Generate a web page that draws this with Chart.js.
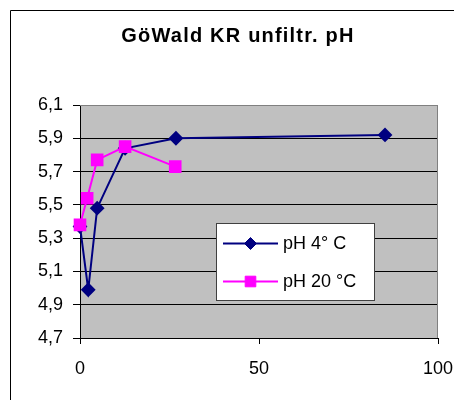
<!DOCTYPE html>
<html>
<head>
<meta charset="utf-8">
<script src="https://cdn.jsdelivr.net/npm/chart.js@4/dist/chart.umd.min.js"></script>
<style>
    html, body { margin: 0; padding: 0; background: #fff; }
    #wrap { width: 454px; height: 400px; position: relative; }
</style>
</head>
<body>
<div id="wrap"><canvas id="phChart" width="454" height="400"></canvas></div>
<script>
// Values
const chartTitle = 'GöWald KR unfiltr. pH';
const seriesNames = ['pH 4° C', 'pH 20 °C'];
const xCold = [0, 2.3, 4.8, 12.6, 26.8, 85.2];
const yCold = [5.37, 4.99, 5.48, 5.84, 5.90, 5.92];
const xWarm = [0, 2.0, 4.8, 12.6, 26.6];
const yWarm = [5.38, 5.54, 5.77, 5.85, 5.73];
const yTicks = [4.7, 4.9, 5.1, 5.3, 5.5, 5.7, 5.9, 6.1];
const xTicks = [0, 50, 100];

const FONT = 'Arial, "Liberation Sans", sans-serif';

// Pair up x and y arrays for the scatter datasets
const toPoints = (xs, ys) => xs.map((x, i) => ({ x: x, y: ys[i] }));

// Draws the outer frame, the grey plot area and the title
const framePlugin = {
    id: 'frame',
    beforeDraw(chart) {
        const ctx = chart.ctx;
        const a = chart.chartArea;
        ctx.save();
        ctx.fillStyle = '#fff';
        ctx.fillRect(0, 0, chart.width, chart.height);

        // outer chart border (only top and left are inside the picture)
        ctx.strokeStyle = '#000';
        ctx.lineWidth = 1;
        ctx.beginPath();
        ctx.moveTo(10.5, chart.height);
        ctx.lineTo(10.5, 10.5);
        ctx.lineTo(chart.width, 10.5);
        ctx.stroke();

        // plot background
        ctx.fillStyle = '#c0c0c0';
        ctx.fillRect(a.left, a.top, a.right - a.left, a.bottom - a.top);

        // title (spreadsheet renders it a bit wide, hence the spacing)
        ctx.fillStyle = '#000';
        ctx.font = 'bold 20px ' + FONT;
        ctx.letterSpacing = '1.2px';
        ctx.textAlign = 'center';
        ctx.textBaseline = 'alphabetic';
        ctx.fillText(chartTitle, 238, 42);
        ctx.restore();
    },
    beforeDatasetsDraw(chart) {
        // grey border on top and right of the plot area
        const ctx = chart.ctx;
        const a = chart.chartArea;
        ctx.save();
        ctx.strokeStyle = '#808080';
        ctx.lineWidth = 1;
        ctx.beginPath();
        ctx.moveTo(a.left, a.top + 0.5);
        ctx.lineTo(a.right - 0.5, a.top + 0.5);
        ctx.lineTo(a.right - 0.5, a.bottom);
        ctx.stroke();
        ctx.restore();
    }
};

// Legend box floating inside the plot, like the spreadsheet one
const boxLegendPlugin = {
    id: 'boxLegend',
    afterDatasetsDraw(chart) {
        const ctx = chart.ctx;
        const box = { x: 216, y: 223, w: 158, h: 77 };
        ctx.save();
        ctx.fillStyle = '#fff';
        ctx.fillRect(box.x, box.y, box.w, box.h);
        ctx.strokeStyle = '#404040';
        ctx.lineWidth = 1;
        ctx.strokeRect(box.x + 0.5, box.y + 0.5, box.w, box.h);

        chart.data.datasets.forEach((ds, i) => {
            const cy = 243.5 + i * 38;
            ctx.strokeStyle = ds.borderColor;
            ctx.lineWidth = ds.borderWidth;
            ctx.beginPath();
            ctx.moveTo(223, cy);
            ctx.lineTo(278, cy);
            ctx.stroke();

            ctx.fillStyle = ds.pointBackgroundColor;
            ctx.strokeStyle = ds.pointBorderColor;
            ctx.lineWidth = 1;
            Chart.helpers.drawPoint(ctx, {
                pointStyle: ds.pointStyle,
                radius: ds.pointRadius,
                borderWidth: 1,
                rotation: 0
            }, 250.5, cy);

            ctx.fillStyle = '#000';
            ctx.font = '18px ' + FONT;
            ctx.textAlign = 'left';
            ctx.textBaseline = 'middle';
            ctx.fillText(ds.label, 283, cy + 1);
        });
        ctx.restore();
    }
};

const ctx = document.getElementById('phChart');

const phChart = new Chart(ctx, {
    type: 'scatter',
    data: {
        datasets: [{
            label: seriesNames[0],
            data: toPoints(xCold, yCold),
            showLine: true,
            borderColor: '#000080',
            borderWidth: 2,
            pointStyle: 'rectRot',
            pointRadius: 6,
            pointBackgroundColor: '#000080',
            pointBorderColor: '#000080',
            clip: false,
            order: 2
        }, {
            label: seriesNames[1],
            data: toPoints(xWarm, yWarm),
            showLine: true,
            borderColor: '#ff00ff',
            borderWidth: 2,
            pointStyle: 'rect',
            pointRadius: 7.5,
            pointBackgroundColor: '#ff00ff',
            pointBorderColor: '#ff00ff',
            clip: false,
            order: 1
        }]
    },
    options: {
        responsive: false,
        animation: false,
        devicePixelRatio: 1,
        layout: {
            padding: { top: 105, right: 16, left: 0, bottom: 0 }
        },
        plugins: {
            legend: { display: false },
            title: { display: false },
            tooltip: { enabled: false }
        },
        scales: {
            x: {
                type: 'linear',
                min: 0,
                max: 100,
                afterBuildTicks: (scale) => {
                    scale.ticks = xTicks.map(v => ({ value: v }));
                },
                afterFit: (scale) => {
                    scale.height = 62;
                    scale.paddingLeft = 0;
                    scale.paddingRight = 0;
                },
                grid: {
                    drawOnChartArea: false,
                    drawTicks: true,
                    tickLength: 6,
                    tickColor: '#000'
                },
                border: {
                    display: true,
                    color: '#000',
                    width: 1
                },
                ticks: {
                    color: '#000',
                    padding: 14,
                    maxRotation: 0,
                    font: { family: FONT, size: 18 }
                }
            },
            y: {
                type: 'linear',
                min: 4.7,
                max: 6.1,
                afterBuildTicks: (scale) => {
                    scale.ticks = yTicks.map(v => ({ value: v }));
                },
                afterFit: (scale) => {
                    scale.width = 80;
                    scale.paddingTop = 0;
                    scale.paddingBottom = 0;
                },
                grid: {
                    color: (c) => (c.tick && c.tick.value >= 6.1 ? '#808080' : '#000'),
                    tickColor: '#000',
                    tickLength: 7,
                    lineWidth: 1
                },
                border: {
                    display: true,
                    color: '#000',
                    width: 1
                },
                ticks: {
                    color: '#000',
                    padding: 10,
                    callback: (value) => value.toFixed(1).replace('.', ','),
                    font: { family: FONT, size: 18 }
                }
            }
        }
    },
    plugins: [framePlugin, boxLegendPlugin]
});
</script>
</body>
</html>
